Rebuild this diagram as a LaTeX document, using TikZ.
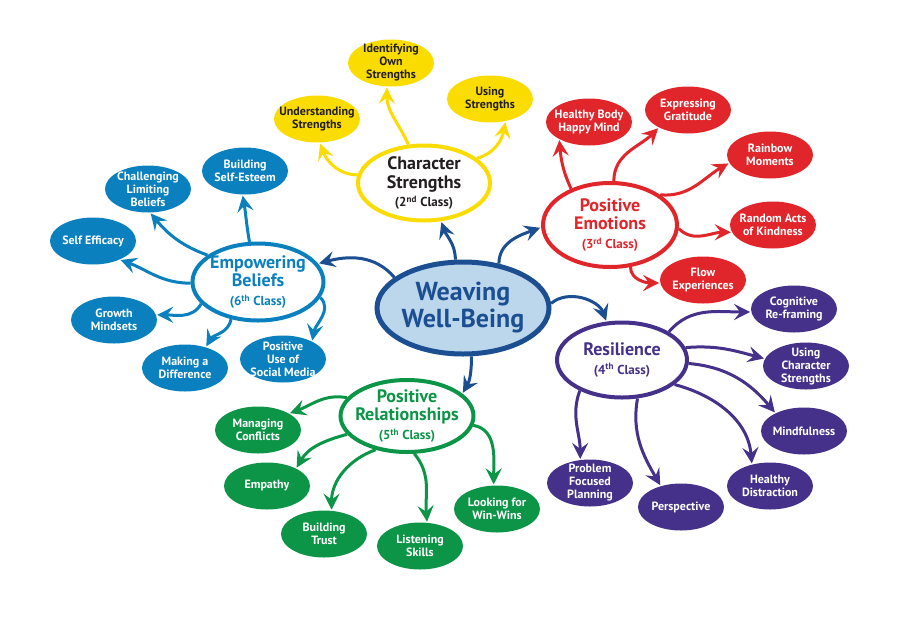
\documentclass[tikz,border=0pt]{standalone}
\usepackage{fontspec}
\setmainfont{PT Sans}
\usepackage{xcolor}
\usetikzlibrary{arrows.meta, shapes.geometric}

\definecolor{wbnavy}{HTML}{1B4F92}
\definecolor{wbsky}{HTML}{BCD7EC}
\definecolor{csyellow}{HTML}{FADC00}
\definecolor{csdark}{HTML}{231F20}
\definecolor{pered}{HTML}{E1262B}
\definecolor{ebblue}{HTML}{0A80BF}
\definecolor{rspurple}{HTML}{45318A}
\definecolor{prgreen}{HTML}{0C9447}

\newcommand{\classline}[2]{{\fontsize{13}{15}\selectfont (#1\textsuperscript{#2} Class)}}

\begin{document}
\begin{tikzpicture}[
  x=1pt, y=1pt,
  leaf/.style  = {ellipse, fill=#1, text=white, inner sep=-11pt,
                  minimum width=86pt, minimum height=47pt,
                  align=center, font=\fontsize{12}{13}\selectfont\bfseries},
  hub/.style   = {ellipse, draw=#1, text=#1, fill=white, line width=4pt,
                  inner sep=-14pt, minimum width=132pt, minimum height=75pt,
                  align=center, font=\fontsize{18}{18.5}\selectfont\bfseries},
  core/.style  = {ellipse, draw=wbnavy, fill=wbsky, text=wbnavy, line width=5pt,
                  inner sep=-18pt, minimum width=172pt, minimum height=92pt,
                  align=center, font=\fontsize{26}{27}\selectfont\bfseries},
  arr/.style   = {-{Stealth[length=16pt, width=16pt, inset=6pt]},
                  line width=3pt, shorten >=1pt},
]

\fill[white] (0,0) rectangle (900,-638);
\useasboundingbox (0,0) rectangle (900,-638);

\node[core] (wwb) at (463,-308) {Weaving\\Well-Being};

\node[hub=csdark, draw=csyellow] (cs) at (424,-183) {Character\\Strengths\\\classline{2}{nd}};
\node[hub=pered, minimum width=134pt, minimum height=84pt] (pe) at (610,-225) {Positive\\Emotions\\\classline{3}{rd}};
\node[hub=ebblue, minimum width=131pt, minimum height=77pt] (eb) at (258,-282) {Empowering\\Beliefs\\\classline{6}{th}};
\node[hub=rspurple, minimum width=130pt] (rs) at (622,-360) {Resilience\\\classline{4}{th}};
\node[hub=prgreen, minimum width=133pt, minimum height=72pt] (pr) at (407,-416) {Positive\\Relationships\\\classline{5}{th}};

\node[leaf=csyellow, text=csdark] (ios) at (391,-63)  {Identifying\\Own\\Strengths};
\node[leaf=csyellow, text=csdark] (us)  at (317,-119) {Understanding\\Strengths};
\node[leaf=csyellow, text=csdark] (uss) at (490,-99)  {Using\\Strengths};

\node[leaf=pered] (hb) at (589,-122) {Healthy Body\\Happy Mind};
\node[leaf=pered] (eg) at (688,-110) {Expressing\\Gratitude};
\node[leaf=pered] (rm) at (770,-155) {Rainbow\\Moments};
\node[leaf=pered] (ra) at (773,-225) {Random Acts\\of Kindness};
\node[leaf=pered] (fe) at (703,-280) {Flow\\Experiences};

\node[leaf=ebblue] (bse)  at (245,-171) {Building\\Self-Esteem};
\node[leaf=ebblue] (clb)  at (148,-189) {Challenging\\Limiting\\Beliefs};
\node[leaf=ebblue] (se)   at (93,-241)  {Self Efficacy};
\node[leaf=ebblue] (gm)   at (114,-320) {Growth\\Mindsets};
\node[leaf=ebblue] (md)   at (185,-368) {Making a\\Difference};
\node[leaf=ebblue] (pusm) at (283,-359) {Positive\\Use of\\Social Media};

\node[leaf=rspurple] (cr)  at (794,-309) {Cognitive\\Re-framing};
\node[leaf=rspurple] (ucs) at (806,-366) {Using\\Character\\Strengths};
\node[leaf=rspurple] (mf)  at (804,-431) {Mindfulness};
\node[leaf=rspurple] (hd)  at (770,-486) {Healthy\\Distraction};
\node[leaf=rspurple] (ps)  at (681,-507) {Perspective};
\node[leaf=rspurple] (pfp) at (590,-483) {Problem\\Focused\\Planning};

\node[leaf=prgreen] (mc)  at (258,-430) {Managing\\Conflicts};
\node[leaf=prgreen] (em)  at (267,-486) {Empathy};
\node[leaf=prgreen] (bt)  at (324,-534) {Building\\Trust};
\node[leaf=prgreen] (ls)  at (420,-546) {Listening\\Skills};
\node[leaf=prgreen] (lww) at (497,-509) {Looking for\\Win-Wins};

\draw[arr, wbnavy] (wwb.99)  to[out=90, in=-70]   (cs.-66);
\draw[arr, wbnavy] (wwb.51)  to[out=90, in=-160]  (pe.182);
\draw[arr, wbnavy] (wwb.156) to[out=130, in=15]   (eb.17);
\draw[arr, wbnavy] (wwb.3)   to[out=40, in=110]   (rs.112);
\draw[arr, wbnavy] (wwb.-80) to[out=-90, in=60]   (pr.22);

\draw[arr, csyellow] (cs.173) to[out=180, in=-70] (us.-83);
\draw[arr, csyellow] (cs.112) to[out=115, in=-90] (ios.-100);
\draw[arr, csyellow] (cs.25)  to[out=15, in=-100] (uss.-55);

\draw[arr, pered] (pe.137) to[out=115, in=-85]  (hb.-150);
\draw[arr, pered] (pe.85)  to[out=90, in=-135]  (eg.-149);
\draw[arr, pered] (pe.31)  to[out=-5, in=-150]  (rm.-169);
\draw[arr, pered] (pe.-3)  to[out=-45, in=180]  (ra.-170);
\draw[arr, pered] (pe.-64) to[out=-90, in=180]  (fe.-176);

\draw[arr, ebblue] (eb.102) to[out=100, in=-80] (bse.-96);
\draw[arr, ebblue] (eb.152) to[out=160, in=-50] (clb.-85);
\draw[arr, ebblue] (eb.181) to[out=180, in=-20] (se.-35);
\draw[arr, ebblue] (eb.201) to[out=-120, in=0]  (gm.7);
\draw[arr, ebblue] (eb.234) to[out=-100, in=60] (md.45);
\draw[arr, ebblue] (eb.-14) to[out=-45, in=80]  (pusm.31);

\draw[arr, rspurple] (rs.31)  to[out=50, in=180]  (cr.-176);
\draw[arr, rspurple] (rs.11)  to[out=5, in=165]   (ucs.170);
\draw[arr, rspurple] (rs.-3)  to[out=-5, in=130]  (mf.148);
\draw[arr, rspurple] (rs.-25) to[out=-15, in=95]  (hd.130);
\draw[arr, rspurple] (rs.-68) to[out=-100, in=120] (ps.134);
\draw[arr, rspurple] (rs.216) to[out=-110, in=90] (pfp.113);

\draw[arr, prgreen] (pr.163) to[out=170, in=20]  (mc.28);
\draw[arr, prgreen] (pr.197) to[out=195, in=60]  (em.31);
\draw[arr, prgreen] (pr.227) to[out=200, in=90]  (bt.72);
\draw[arr, prgreen] (pr.-79) to[out=-50, in=95]  (ls.73);
\draw[arr, prgreen] (pr.-8)  to[out=-10, in=90]  (lww.98);

\end{tikzpicture}
\end{document}
